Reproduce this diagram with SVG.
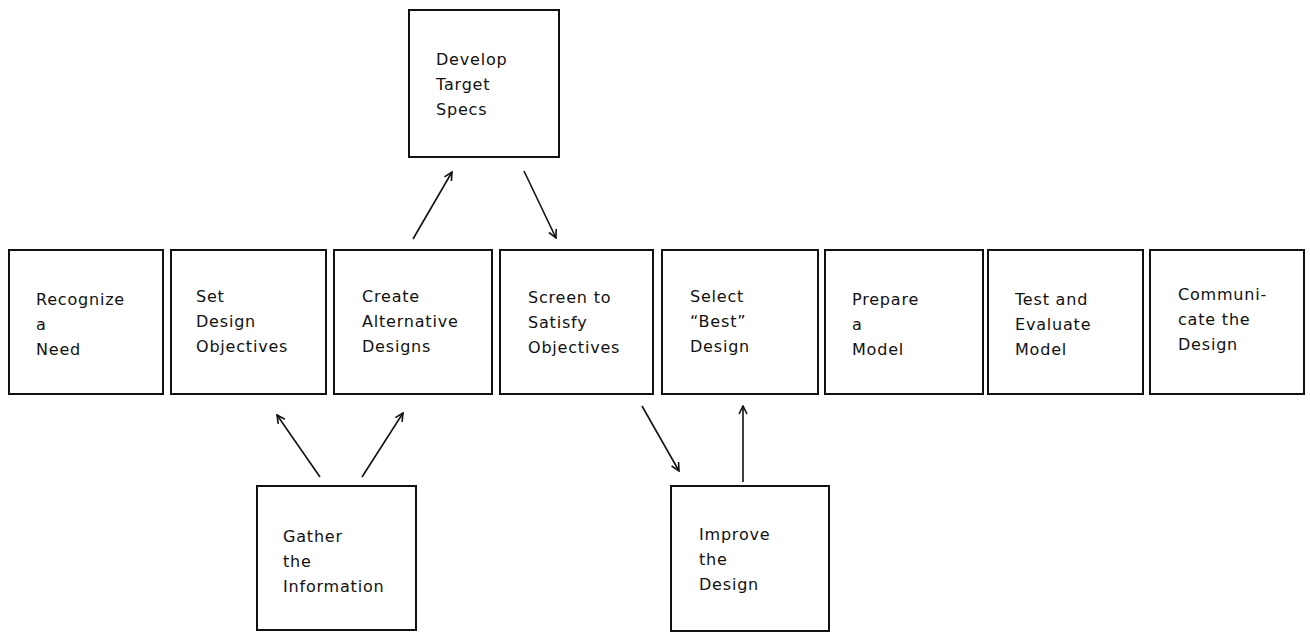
<svg xmlns="http://www.w3.org/2000/svg" width="1310" height="632" viewBox="0 0 1310 632">
<style>
.box{fill:#fff;stroke:#111;stroke-width:2}
.t{font-family:"DejaVu Sans",sans-serif;font-size:16px;letter-spacing:0.8px;fill:#111}
.c{stroke:#111;stroke-width:1.6;fill:none;marker-end:url(#ah)}
</style>
<defs>
<marker id="ah" viewBox="0 0 10 10" refX="9" refY="5" markerWidth="10" markerHeight="10" markerUnits="userSpaceOnUse" orient="auto">
<path d="M1,1 L9,5 L1,9" fill="none" stroke="#111" stroke-width="1.6"/>
</marker>
</defs>
<rect width="1310" height="632" fill="#fff"/>
<g id="recognize"><rect class="box" x="9" y="250" width="154" height="144"/><text class="t" x="36"><tspan x="36" y="305">Recognize</tspan><tspan x="36" y="330">a</tspan><tspan x="36" y="355">Need</tspan></text></g>
<g id="set"><rect class="box" x="171" y="250" width="155" height="144"/><text class="t"><tspan x="196" y="302">Set</tspan><tspan x="196" y="327">Design</tspan><tspan x="196" y="352">Objectives</tspan></text></g>
<g id="create"><rect class="box" x="334" y="250" width="158" height="144"/><text class="t"><tspan x="362" y="302">Create</tspan><tspan x="362" y="327">Alternative</tspan><tspan x="362" y="352">Designs</tspan></text></g>
<g id="screen"><rect class="box" x="500" y="250" width="153" height="144"/><text class="t"><tspan x="528" y="303">Screen to</tspan><tspan x="528" y="328">Satisfy</tspan><tspan x="528" y="353">Objectives</tspan></text></g>
<g id="select"><rect class="box" x="662" y="250" width="156" height="144"/><text class="t"><tspan x="690" y="302">Select</tspan><tspan x="690" y="327">“Best”</tspan><tspan x="690" y="352">Design</tspan></text></g>
<g id="prepare"><rect class="box" x="825" y="250" width="158" height="144"/><text class="t"><tspan x="852" y="305">Prepare</tspan><tspan x="852" y="330">a</tspan><tspan x="852" y="355">Model</tspan></text></g>
<g id="test"><rect class="box" x="988" y="250" width="155" height="144"/><text class="t"><tspan x="1015" y="305">Test and</tspan><tspan x="1015" y="330">Evaluate</tspan><tspan x="1015" y="355">Model</tspan></text></g>
<g id="communicate"><rect class="box" x="1150" y="250" width="154" height="144"/><text class="t"><tspan x="1178" y="300">Communi-</tspan><tspan x="1178" y="325">cate the</tspan><tspan x="1178" y="350">Design</tspan></text></g>
<g id="develop"><rect class="box" x="409" y="10" width="150" height="147"/><text class="t"><tspan x="436" y="65">Develop</tspan><tspan x="436" y="90">Target</tspan><tspan x="436" y="115">Specs</tspan></text></g>
<g id="gather"><rect class="box" x="257" y="486" width="159" height="144"/><text class="t"><tspan x="283" y="542">Gather</tspan><tspan x="283" y="567">the</tspan><tspan x="283" y="592">Information</tspan></text></g>
<g id="improve"><rect class="box" x="671" y="486" width="158" height="145"/><text class="t"><tspan x="699" y="540">Improve</tspan><tspan x="699" y="565">the</tspan><tspan x="699" y="590">Design</tspan></text></g>
<g id="connectors">
<line class="c" x1="413" y1="239" x2="452" y2="172"/>
<line class="c" x1="524" y1="171" x2="556" y2="238"/>
<line class="c" x1="320" y1="477" x2="277" y2="415"/>
<line class="c" x1="362" y1="477" x2="403" y2="413"/>
<line class="c" x1="642" y1="406" x2="679" y2="471"/>
<line class="c" x1="743" y1="482" x2="743" y2="406"/>
</g>
</svg>
